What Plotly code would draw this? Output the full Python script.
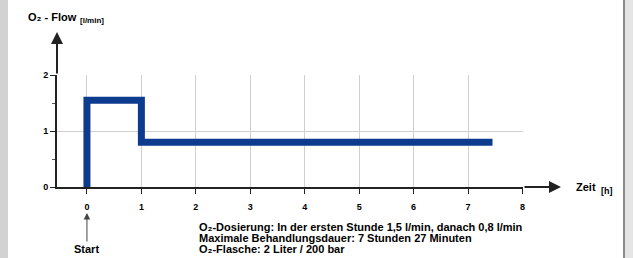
import plotly.graph_objects as go

# data
time_h = [0, 0, 1, 1, 7.45]
flow_lpm = [0, 1.55, 1.55, 0.8, 0.8]
x_ticks = [0, 1, 2, 3, 4, 5, 6, 7, 8]
y_ticks = [0, 1, 2]
info_lines = [
    "O₂-Dosierung: In der ersten Stunde 1,5 l/min, danach 0,8 l/min",
    "Maximale Behandlungsdauer: 7 Stunden 27 Minuten",
    "O₂-Flasche: 2 Liter / 200 bar",
]

W, H = 633, 258
L, R, T, B = 57, 110, 75, 71
pw, ph = W - L - R, H - T - B

def px_x(p):
    return (p - L) / pw

def px_y(p):
    return (H - B - p) / ph

FONT = "Liberation Sans"
WT = "bold"

fig = go.Figure()
fig.add_trace(go.Scatter(
    x=time_h, y=flow_lpm, mode="lines",
    line=dict(color="#0d3b8e", width=7, shape="linear"),
    hoverinfo="skip", showlegend=False,
))

fig.update_layout(
    width=W, height=H,
    margin=dict(l=L, r=R, t=T, b=B),
    paper_bgcolor="white", plot_bgcolor="white",
    font=dict(family=FONT, color="black", size=9, weight=WT),
    xaxis=dict(
        range=[-0.55, 8.01], tickvals=x_ticks, ticktext=[str(v) for v in x_ticks],
        showgrid=True, gridcolor="#cfcfcf", gridwidth=1, zeroline=False,
        showline=True, linecolor="#222", linewidth=2,
        ticks="outside", ticklen=5, tickwidth=1, tickcolor="#222",
        ticklabelstandoff=5, fixedrange=True,
        tickfont=dict(family=FONT, size=9, weight=WT),
    ),
    yaxis=dict(
        range=[0, 2], tickvals=y_ticks, ticktext=[str(v) for v in y_ticks],
        showgrid=True, gridcolor="#cfcfcf", gridwidth=1, zeroline=False,
        showline=True, linecolor="#222", linewidth=2,
        ticks="outside", ticklen=5, tickwidth=1, tickcolor="#222",
        minor=dict(tickvals=[0.5, 1.5], ticks="outside", ticklen=3, tickcolor="#555", showgrid=False),
        fixedrange=True,
        tickfont=dict(family=FONT, size=9, weight=WT),
    ),
)

shapes = [
    # gray page borders
    dict(type="rect", xref="paper", yref="paper", x0=px_x(0), x1=px_x(8), y0=px_y(258), y1=px_y(0),
         fillcolor="#d2d2d2", line=dict(width=0), layer="below"),
    dict(type="rect", xref="paper", yref="paper", x0=px_x(624), x1=px_x(634), y0=px_y(258), y1=px_y(0),
         fillcolor="#e4e4e4", line=dict(width=0), layer="below"),
    dict(type="line", xref="paper", yref="paper", x0=px_x(624), x1=px_x(624), y0=px_y(258), y1=px_y(0),
         line=dict(color="#8a8a8a", width=2)),
]
fig.update_layout(shapes=shapes)

annotations = [
    # y axis arrow
    dict(xref="paper", yref="paper", x=0, y=px_y(32), ax=0, ay=43,
         text="", showarrow=True, arrowhead=2, arrowsize=1.2, arrowwidth=2, arrowcolor="#222"),
    # x axis arrow
    dict(xref="paper", yref="paper", x=px_x(561), y=0, ax=-38, ay=0,
         text="", showarrow=True, arrowhead=2, arrowsize=1.2, arrowwidth=2, arrowcolor="#222"),
    # y title
    dict(xref="paper", yref="paper", x=px_x(26), y=px_y(17), xanchor="left", yanchor="middle",
         text="O₂ - Flow", showarrow=False,
         font=dict(family=FONT, size=11, weight=WT)),
    dict(xref="paper", yref="paper", x=px_x(78), y=px_y(20), xanchor="left", yanchor="middle",
         text="[l/min]", showarrow=False,
         font=dict(family=FONT, size=8, weight=WT)),
    # x title
    dict(xref="paper", yref="paper", x=px_x(574), y=px_y(187), xanchor="left", yanchor="middle",
         text="Zeit", showarrow=False,
         font=dict(family=FONT, size=11, weight=WT)),
    dict(xref="paper", yref="paper", x=px_x(599), y=px_y(191), xanchor="left", yanchor="middle",
         text="[h]", showarrow=False,
         font=dict(family=FONT, size=9, weight=WT)),
    # start marker
    dict(xref="x", yref="paper", x=0, y=px_y(213), ax=0, ay=36,
         text="Start", showarrow=True, arrowhead=2, arrowsize=1.3, arrowwidth=1, arrowcolor="#444",
         font=dict(family=FONT, size=11, weight=WT)),
]
for i, line in enumerate(info_lines):
    annotations.append(dict(
        xref="paper", yref="paper", x=px_x(197), y=px_y(227 + 11 * i),
        xanchor="left", yanchor="middle", align="left", text=line, showarrow=False,
        font=dict(family=FONT, size=11, weight=WT)))
fig.update_layout(annotations=annotations)

fig.write_html("out.html", post_script="document.body.style.margin='0';",
               config={"displayModeBar": False})
